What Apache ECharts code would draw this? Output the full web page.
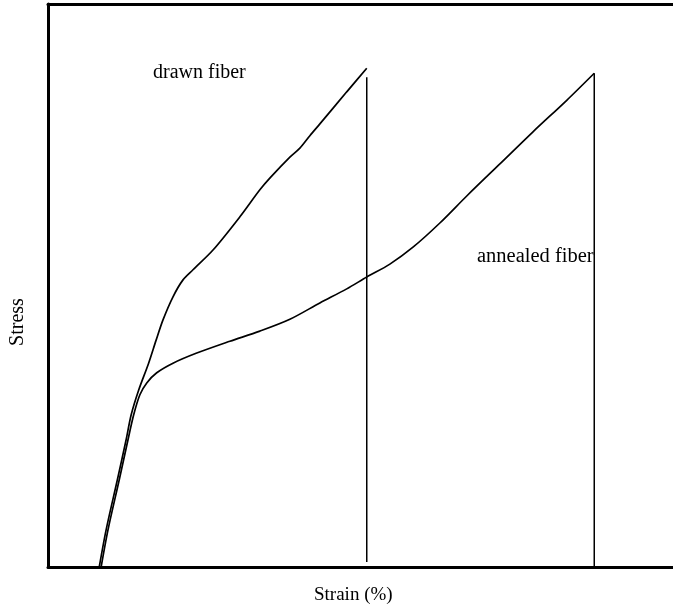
<!DOCTYPE html>
<html>
<head>
<meta charset="utf-8">
<script src="https://cdn.jsdelivr.net/npm/echarts@6/dist/echarts.min.js"></script>
<style>
html,body{margin:0;padding:0;background:#fff;}
#c{width:673px;height:611px;}
</style>
</head>
<body>
<div id="c"></div>
<script>
// Strain (arbitrary units, 0-100) and stress (arbitrary units, 0-100)
const drawnStrain = [8.2, 9.3, 11.1, 12.5, 13.3, 14.5, 16.1, 17.3, 18.4, 20.0, 21.6, 23.2, 26.4, 30.7, 33.9, 35.6, 38.7, 40.3, 41.9, 43.5, 47.8, 51.0];
const drawnStress = [0, 6.6, 15.5, 22.6, 27.0, 31.4, 36.2, 40.3, 43.9, 48.0, 51.0, 52.8, 56.3, 62.2, 67.0, 69.2, 72.8, 74.4, 76.6, 78.7, 84.4, 88.6];
const drawnBreakStrain = [51.0, 51.0];
const drawnBreakStress = [87.0, 0.9];

const annealedStrain = [8.5, 9.6, 11.4, 12.8, 13.7, 14.7, 15.8, 17.4, 20.0, 23.8, 29.1, 33.9, 38.7, 43.5, 47.8, 51.0, 54.7, 58.4, 62.7, 67.0, 72.3, 77.6, 83.0, 87.4];
const annealedStress = [0, 6.6, 15.5, 22.6, 27.0, 30.6, 32.7, 34.5, 36.2, 38.0, 40.1, 41.9, 44.0, 46.9, 49.4, 51.5, 53.8, 56.8, 61.1, 65.9, 71.6, 77.3, 82.9, 87.7];
const annealedBreakStrain = [87.4, 87.4];
const annealedBreakStress = [87.7, 0];

const labels = {drawn: 'drawn fiber', annealed: 'annealed fiber', x: 'Strain (%)', y: 'Stress'};

const zip = (a, b) => a.map((v, i) => [v, b[i]]);
const FONT = '"Liberation Serif", "DejaVu Serif", serif';

const chart = echarts.init(document.getElementById('c'), null, {renderer: 'canvas'});
const lineStyle = {color: '#000', width: 1.7};
chart.setOption({
  animation: false,
  backgroundColor: '#fff',
  grid: {left: 48, right: 0, top: 4, bottom: 44},
  xAxis: [
    {type: 'value', min: 0, max: 100, position: 'bottom',
     axisLine: {show: true, lineStyle: {color: '#000', width: 3}},
     axisTick: {show: false}, axisLabel: {show: false}, splitLine: {show: false}},
    {type: 'value', min: 0, max: 100, position: 'top',
     axisLine: {show: true, onZero: false, lineStyle: {color: '#000', width: 3}},
     axisTick: {show: false}, axisLabel: {show: false}, splitLine: {show: false}}
  ],
  yAxis: {type: 'value', min: 0, max: 100,
    axisLine: {show: true, lineStyle: {color: '#000', width: 3}},
    axisTick: {show: false}, axisLabel: {show: false}, splitLine: {show: false}},
  series: [
    {type: 'line', data: zip(drawnStrain, drawnStress), smooth: 0.3, symbol: 'none', lineStyle: lineStyle},
    {type: 'line', data: zip(drawnBreakStrain, drawnBreakStress), symbol: 'none', lineStyle: {color: '#000', width: 1.5}},
    {type: 'line', data: zip(annealedStrain, annealedStress), smooth: 0.3, symbol: 'none', lineStyle: lineStyle},
    {type: 'line', data: zip(annealedBreakStrain, annealedBreakStress), symbol: 'none', lineStyle: {color: '#000', width: 1.5}}
  ],
  graphic: [
    {type: 'text', left: 153, top: 63, style: {text: labels.drawn, font: '20px ' + FONT, fill: '#000'}},
    {type: 'text', left: 477, top: 246, style: {text: labels.annealed, font: '20.5px ' + FONT, fill: '#000'}},
    {type: 'text', left: 314, top: 586, style: {text: labels.x, font: '19px ' + FONT, fill: '#000'}},
    {type: 'text', x: 18, y: 322, rotation: Math.PI / 2,
     style: {text: labels.y, font: '20px ' + FONT, fill: '#000', align: 'center', verticalAlign: 'middle'}}
  ]
});
</script>
</body>
</html>
